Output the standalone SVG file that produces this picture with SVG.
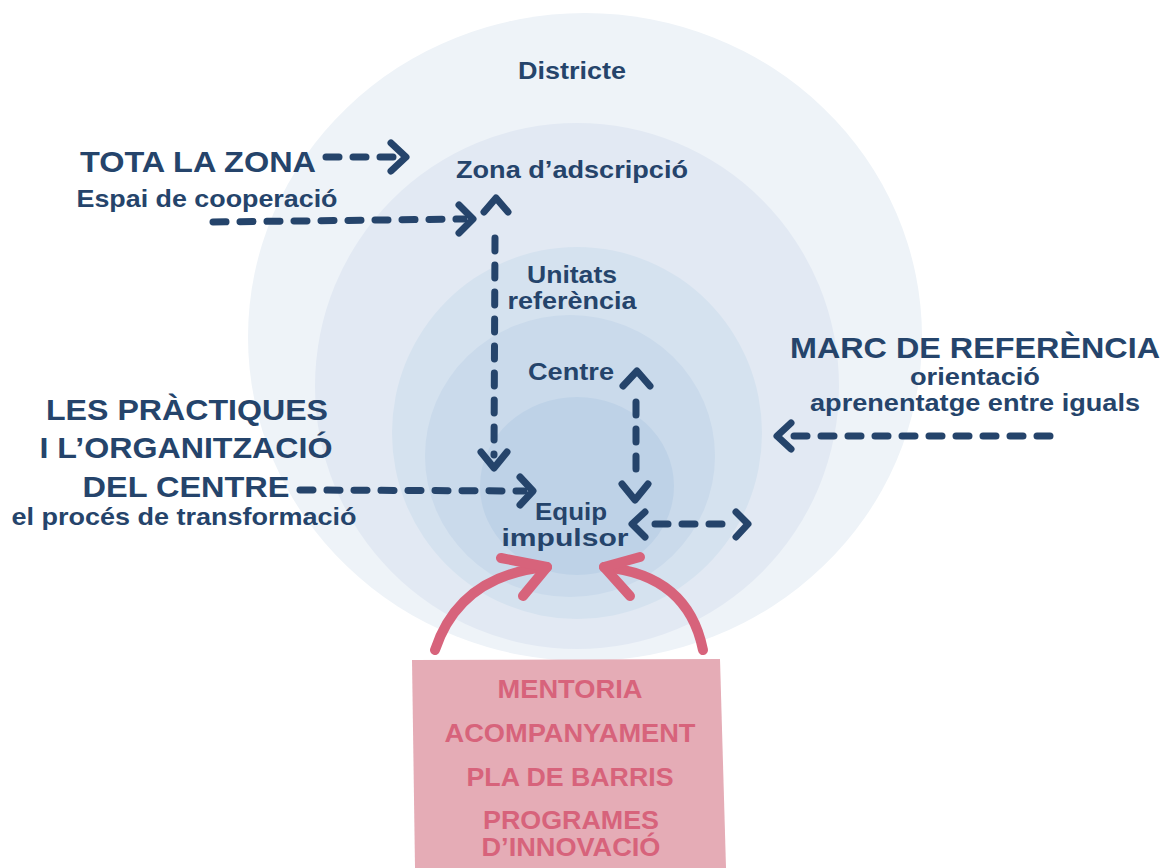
<svg xmlns="http://www.w3.org/2000/svg" width="1165" height="868" viewBox="0 0 1165 868">
<style>
.t{font-family:"Liberation Sans",Arial,sans-serif;font-weight:bold;fill:#25446b;text-anchor:middle}
.big{font-size:30px}
.mid{font-size:24px}
.p{font-family:"Liberation Sans",Arial,sans-serif;font-weight:bold;fill:#d7637b;font-size:25px;text-anchor:middle}
.d{fill:none;stroke:#25446b;stroke-width:7;stroke-linecap:round;stroke-linejoin:round;stroke-dasharray:13 14}
.h{fill:none;stroke:#25446b;stroke-width:7;stroke-linecap:round;stroke-linejoin:round}
.pk{fill:none;stroke:#d7637b;stroke-width:10;stroke-linecap:round;stroke-linejoin:round}
</style>
<rect width="1165" height="868" fill="#ffffff"/>
<g id="districte">
<ellipse cx="585" cy="337" rx="337" ry="324" fill="#eef3f8"/>
<text class="t" x="572" y="79" font-size="24" textLength="108" lengthAdjust="spacingAndGlyphs">Districte</text>
</g>
<g id="zona">
<ellipse cx="577" cy="386" rx="262" ry="263" fill="#e2e9f3"/>
<text class="t" x="572" y="178" font-size="24" textLength="232" lengthAdjust="spacingAndGlyphs">Zona d’adscripció</text>
</g>
<g id="unitats">
<ellipse cx="577" cy="433" rx="185" ry="186" fill="#d5e2ef"/>
<text class="t mid" x="572" y="283" textLength="90" lengthAdjust="spacingAndGlyphs">Unitats</text>
<text class="t mid" x="572" y="309" textLength="129" lengthAdjust="spacingAndGlyphs">referència</text>
</g>
<g id="centre">
<ellipse cx="570" cy="456" rx="145" ry="141" fill="#cadaeb"/>
<text class="t mid" x="571" y="380" textLength="86" lengthAdjust="spacingAndGlyphs">Centre</text>
</g>
<g id="equip">
<ellipse cx="577" cy="486" rx="97" ry="89" fill="#bed2e7"/>
<text class="t mid" x="571" y="520" textLength="72" lengthAdjust="spacingAndGlyphs">Equip</text>
<text class="t mid" x="565" y="546" textLength="127" lengthAdjust="spacingAndGlyphs">impulsor</text>
</g>
<g id="tota">
<text class="t big" x="198" y="172" textLength="236" lengthAdjust="spacingAndGlyphs">TOTA LA ZONA</text>
<text class="t mid" x="207" y="207" textLength="261" lengthAdjust="spacingAndGlyphs">Espai de cooperació</text>
</g>
<g id="practiques">
<text class="t big" x="187" y="420" textLength="282" lengthAdjust="spacingAndGlyphs">LES PRÀCTIQUES</text>
<text class="t big" x="186" y="458" textLength="293" lengthAdjust="spacingAndGlyphs">I L’ORGANITZACIÓ</text>
<text class="t big" x="186" y="497" textLength="207" lengthAdjust="spacingAndGlyphs">DEL CENTRE</text>
<text class="t mid" x="184" y="525" textLength="345" lengthAdjust="spacingAndGlyphs">el procés de transformació</text>
</g>
<g id="marc">
<text class="t big" x="975" y="358" textLength="370" lengthAdjust="spacingAndGlyphs">MARC DE REFERÈNCIA</text>
<text class="t mid" x="975" y="385" textLength="130" lengthAdjust="spacingAndGlyphs">orientació</text>
<text class="t mid" x="975" y="411" textLength="330" lengthAdjust="spacingAndGlyphs">aprenentatge entre iguals</text>
</g>
<g id="suport">
<path d="M412,660 L720,659 L726,868 L415,868 Z" fill="#e5acb6"/>
<text class="p" x="570" y="698" textLength="145" lengthAdjust="spacingAndGlyphs">MENTORIA</text>
<text class="p" x="570" y="742" textLength="251" lengthAdjust="spacingAndGlyphs">ACOMPANYAMENT</text>
<text class="p" x="570" y="786" textLength="207" lengthAdjust="spacingAndGlyphs">PLA DE BARRIS</text>
<text class="p" x="571" y="829" textLength="176" lengthAdjust="spacingAndGlyphs">PROGRAMES</text>
<text class="p" x="571" y="856" textLength="179" lengthAdjust="spacingAndGlyphs">D’INNOVACIÓ</text>
</g>
<g id="connectors">
<path class="d" d="M326,157 L398,157"/>
<path class="h" d="M391,143 L406,157 L391,171"/>
<path class="d" d="M213,222 L464,219"/>
<path class="h" d="M459,205 L473,219 L459,233"/>
<path class="d" d="M495,238 L494,455"/>
<path class="h" d="M484,212 L496,198 L508,212"/>
<path class="h" d="M481,452 L494,468 L507,452"/>
<path class="d" d="M300,490 L524,491"/>
<path class="h" d="M520,477 L533,491 L520,505"/>
<path class="d" d="M636,402 L636,480"/>
<path class="h" d="M623,386 L637,371 L650,386"/>
<path class="h" d="M622,484 L635,500 L648,484"/>
<path class="d" d="M655,524 L736,524"/>
<path class="h" d="M645,512 L632,524 L645,537"/>
<path class="h" d="M736,512 L748,524 L736,537"/>
<path class="d" d="M1050,436 L786,436"/>
<path class="h" d="M791,423 L777,436 L791,449"/>
<path class="pk" d="M435,650 Q460,575 547,567"/>
<path class="pk" d="M501,558 L547,567 L523,596"/>
<path class="pk" d="M703,650 Q688,575 604,567"/>
<path class="pk" d="M640,557 L604,567 L630,596"/>
</g>
</svg>
